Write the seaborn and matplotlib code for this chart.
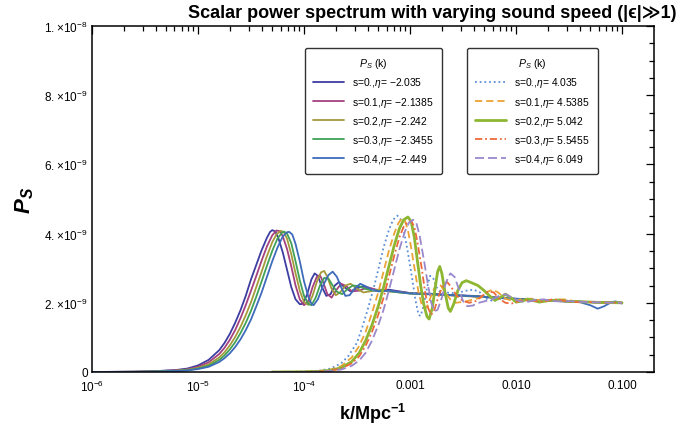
import numpy as np
import pandas as pd
import matplotlib
matplotlib.use("Agg")
import matplotlib.pyplot as plt
import seaborn as sns
from matplotlib.ticker import FixedLocator, NullFormatter

# ---------------- data (log10 k, P_S in units of 1e-9) ----------------
# group 1 (eta < 0), solid lines
logk_a0 = [-6.0, -5.6, -5.4, -5.2, -5.1, -5.0, -4.9, -4.8, -4.75, -4.7, -4.65, -4.6, -4.55, -4.5, -4.45, -4.4, -4.35, -4.32, -4.30, -4.27, -4.24, -4.20, -4.16, -4.12, -4.08, -4.04, -4.01, -3.97, -3.93, -3.90, -3.87, -3.83, -3.79, -3.75, -3.71, -3.67, -3.62, -3.56, -3.50, -3.44, -3.38, -3.3, -3.2, -3.1, -3.0, -2.8, -2.6, -2.4, -2.2, -2.0, -1.8, -1.6, -1.4, -1.2, -1.0]
ps_a0 = [0.0, 0.01, 0.025, 0.06, 0.1, 0.19, 0.35, 0.63, 0.84, 1.1, 1.42, 1.78, 2.2, 2.68, 3.1, 3.52, 3.88, 4.05, 4.10, 4.06, 3.85, 3.45, 2.95, 2.45, 2.1, 1.96, 1.97, 2.25, 2.68, 2.85, 2.78, 2.45, 2.2, 2.25, 2.5, 2.6, 2.45, 2.33, 2.42, 2.48, 2.40, 2.36, 2.38, 2.33, 2.28, 2.26, 2.22, 2.2, 2.15, 2.12, 2.08, 2.05, 2.03, 2.01, 2.0]

logk_a1 = [-6.0, -5.6, -5.4, -5.2, -5.1, -5.0, -4.9, -4.8, -4.75, -4.7, -4.65, -4.6, -4.55, -4.5, -4.45, -4.4, -4.35, -4.3, -4.26, -4.23, -4.2, -4.16, -4.12, -4.08, -4.04, -4.0, -3.96, -3.92, -3.88, -3.85, -3.82, -3.78, -3.74, -3.70, -3.65, -3.60, -3.55, -3.48, -3.40, -3.32, -3.2, -3.1, -3.0, -2.8, -2.6, -2.4, -2.2, -2.0, -1.8, -1.6, -1.4, -1.2, -1.0]
ps_a1 = [0.0, 0.008, 0.02, 0.05, 0.08, 0.15, 0.28, 0.52, 0.7, 0.93, 1.21, 1.55, 1.93, 2.35, 2.78, 3.22, 3.63, 3.95, 4.09, 4.07, 3.92, 3.55, 3.05, 2.5, 2.1, 1.93, 2.05, 2.45, 2.75, 2.8, 2.6, 2.25, 2.15, 2.35, 2.55, 2.48, 2.33, 2.35, 2.45, 2.38, 2.34, 2.32, 2.28, 2.25, 2.22, 2.19, 2.15, 2.11, 2.08, 2.05, 2.03, 2.01, 2.0]

logk_a2 = [-6.0, -5.6, -5.4, -5.2, -5.1, -5.0, -4.9, -4.8, -4.75, -4.7, -4.65, -4.6, -4.55, -4.5, -4.45, -4.4, -4.35, -4.3, -4.26, -4.22, -4.19, -4.16, -4.12, -4.08, -4.04, -4.0, -3.96, -3.92, -3.88, -3.84, -3.81, -3.78, -3.74, -3.70, -3.66, -3.61, -3.56, -3.5, -3.44, -3.36, -3.28, -3.2, -3.1, -3.0, -2.8, -2.6, -2.4, -2.2, -2.0, -1.8, -1.6, -1.4, -1.2, -1.0]
ps_a2 = [0.0, 0.006, 0.016, 0.04, 0.065, 0.12, 0.22, 0.42, 0.57, 0.77, 1.01, 1.3, 1.64, 2.02, 2.46, 2.9, 3.35, 3.75, 3.98, 4.08, 4.04, 3.85, 3.4, 2.85, 2.35, 2.02, 1.94, 2.2, 2.6, 2.88, 2.92, 2.75, 2.4, 2.22, 2.3, 2.5, 2.55, 2.4, 2.3, 2.34, 2.38, 2.33, 2.3, 2.27, 2.24, 2.21, 2.18, 2.15, 2.11, 2.08, 2.05, 2.03, 2.01, 2.0]

logk_a3 = [-6.0, -5.6, -5.4, -5.2, -5.1, -5.0, -4.9, -4.8, -4.75, -4.7, -4.65, -4.6, -4.55, -4.5, -4.45, -4.4, -4.35, -4.3, -4.25, -4.21, -4.19, -4.16, -4.12, -4.08, -4.04, -4.0, -3.96, -3.93, -3.89, -3.85, -3.81, -3.77, -3.73, -3.69, -3.64, -3.59, -3.54, -3.48, -3.42, -3.34, -3.26, -3.18, -3.1, -3.0, -2.8, -2.6, -2.4, -2.2, -2.0, -1.8, -1.6, -1.4, -1.2, -1.0]
ps_a3 = [0.0, 0.005, 0.013, 0.033, 0.055, 0.1, 0.18, 0.35, 0.48, 0.65, 0.86, 1.12, 1.42, 1.77, 2.18, 2.62, 3.07, 3.5, 3.86, 4.02, 4.06, 4.0, 3.72, 3.2, 2.65, 2.2, 1.97, 1.93, 2.15, 2.5, 2.72, 2.7, 2.5, 2.32, 2.25, 2.4, 2.5, 2.48, 2.4, 2.35, 2.36, 2.33, 2.3, 2.27, 2.25, 2.22, 2.19, 2.15, 2.11, 2.08, 2.05, 2.03, 2.01, 2.0]

logk_a4 = [-6.0, -5.6, -5.4, -5.2, -5.1, -5.0, -4.9, -4.8, -4.75, -4.7, -4.65, -4.6, -4.55, -4.5, -4.45, -4.4, -4.35, -4.3, -4.25, -4.2, -4.16, -4.14, -4.11, -4.08, -4.04, -4.0, -3.96, -3.93, -3.91, -3.87, -3.82, -3.77, -3.73, -3.69, -3.65, -3.61, -3.57, -3.52, -3.47, -3.42, -3.36, -3.3, -3.2, -3.1, -3.0, -2.8, -2.6, -2.4, -2.2, -2.0, -1.8, -1.6, -1.5, -1.4, -1.3, -1.23, -1.17, -1.1, -1.06, -1.03, -1.0]
ps_a4 = [0.0, 0.004, 0.011, 0.028, 0.045, 0.085, 0.15, 0.29, 0.4, 0.54, 0.72, 0.94, 1.21, 1.52, 1.9, 2.3, 2.75, 3.2, 3.6, 3.92, 4.04, 4.05, 3.97, 3.7, 3.2, 2.62, 2.18, 1.97, 1.93, 2.1, 2.5, 2.8, 2.9, 2.75, 2.45, 2.2, 2.22, 2.42, 2.55, 2.48, 2.38, 2.33, 2.35, 2.31, 2.27, 2.25, 2.22, 2.19, 2.15, 2.11, 2.08, 2.05, 2.04, 2.02, 1.93, 1.83, 1.9, 2.02, 2.04, 2.0, 1.98]

# group 2 (eta > 0), dashed/dotted lines
logk_b0 = [-4.3, -4.0, -3.85, -3.75, -3.65, -3.58, -3.5, -3.45, -3.4, -3.35, -3.3, -3.25, -3.2, -3.16, -3.12, -3.09, -3.06, -3.02, -2.98, -2.95, -2.92, -2.90, -2.87, -2.84, -2.81, -2.78, -2.75, -2.71, -2.66, -2.6, -2.54, -2.47, -2.4, -2.34, -2.28, -2.22, -2.16, -2.1, -2.02, -1.94, -1.85, -1.75, -1.65, -1.55, -1.45, -1.35, -1.25, -1.15, -1.0]
ps_b0 = [0.0, 0.01, 0.04, 0.1, 0.25, 0.47, 0.85, 1.3, 1.8, 2.35, 2.95, 3.6, 4.1, 4.4, 4.52, 4.42, 4.1, 3.45, 2.7, 2.1, 1.65, 1.62, 1.95, 2.45, 2.78, 2.7, 2.45, 2.28, 2.3, 2.28, 2.3, 2.35, 2.38, 2.3, 2.12, 2.05, 2.1, 2.15, 2.12, 2.08, 2.1, 2.06, 2.08, 2.04, 2.05, 2.02, 2.03, 2.0, 2.0]

logk_b1 = [-4.3, -4.0, -3.85, -3.75, -3.65, -3.55, -3.48, -3.42, -3.36, -3.3, -3.25, -3.2, -3.15, -3.11, -3.08, -3.05, -3.02, -2.99, -2.95, -2.92, -2.89, -2.86, -2.83, -2.79, -2.75, -2.71, -2.67, -2.62, -2.57, -2.52, -2.46, -2.4, -2.33, -2.27, -2.22, -2.17, -2.1, -2.03, -1.95, -1.85, -1.75, -1.65, -1.55, -1.45, -1.35, -1.25, -1.15, -1.0]
ps_b1 = [0.0, 0.008, 0.03, 0.07, 0.17, 0.42, 0.75, 1.15, 1.7, 2.3, 2.9, 3.5, 4.0, 4.3, 4.43, 4.38, 4.1, 3.6, 2.85, 2.3, 1.95, 1.82, 1.95, 2.3, 2.55, 2.5, 2.3, 2.1, 2.0, 2.02, 2.05, 2.1, 2.15, 2.32, 2.38, 2.3, 2.12, 2.05, 2.1, 2.12, 2.06, 2.08, 2.1, 2.05, 2.03, 2.02, 2.01, 2.0]

logk_b2 = [-4.3, -4.0, -3.85, -3.75, -3.65, -3.55, -3.48, -3.42, -3.36, -3.3, -3.25, -3.2, -3.15, -3.1, -3.06, -3.02, -2.99, -2.96, -2.93, -2.90, -2.87, -2.84, -2.82, -2.79, -2.76, -2.74, -2.72, -2.70, -2.67, -2.64, -2.62, -2.59, -2.55, -2.51, -2.47, -2.42, -2.36, -2.3, -2.25, -2.2, -2.15, -2.1, -2.05, -2.0, -1.94, -1.89, -1.83, -1.78, -1.7, -1.6, -1.5, -1.4, -1.3, -1.2, -1.0]
ps_b2 = [0.0, 0.005, 0.02, 0.05, 0.12, 0.3, 0.55, 0.9, 1.35, 1.9, 2.45, 3.05, 3.65, 4.15, 4.4, 4.48, 4.35, 3.9, 3.2, 2.5, 1.95, 1.6, 1.53, 1.85, 2.5, 2.9, 3.05, 2.85, 2.3, 1.85, 1.75, 1.95, 2.35, 2.58, 2.64, 2.58, 2.5, 2.35, 2.2, 2.07, 2.15, 2.25, 2.15, 2.02, 2.05, 2.11, 2.06, 2.02, 2.06, 2.08, 2.04, 2.03, 2.02, 2.01, 2.0]

logk_b3 = [-4.3, -4.0, -3.85, -3.75, -3.65, -3.55, -3.48, -3.42, -3.36, -3.3, -3.25, -3.2, -3.15, -3.1, -3.06, -3.02, -2.99, -2.96, -2.93, -2.89, -2.86, -2.83, -2.80, -2.77, -2.73, -2.69, -2.65, -2.61, -2.56, -2.5, -2.44, -2.38, -2.32, -2.26, -2.21, -2.16, -2.1, -2.04, -1.97, -1.9, -1.82, -1.74, -1.66, -1.58, -1.5, -1.4, -1.3, -1.2, -1.0]
ps_b3 = [0.0, 0.004, 0.015, 0.04, 0.1, 0.25, 0.45, 0.75, 1.15, 1.65, 2.15, 2.75, 3.35, 3.9, 4.2, 4.35, 4.37, 4.2, 3.75, 3.0, 2.35, 1.85, 1.65, 1.8, 2.2, 2.5, 2.6, 2.45, 2.2, 2.05, 2.0, 2.05, 2.2, 2.33, 2.3, 2.12, 2.0, 1.98, 2.05, 2.07, 2.05, 2.03, 2.1, 2.08, 2.03, 2.02, 2.02, 2.01, 2.0]

logk_b4 = [-4.3, -4.0, -3.85, -3.75, -3.65, -3.55, -3.48, -3.42, -3.36, -3.3, -3.25, -3.2, -3.15, -3.1, -3.05, -3.01, -2.97, -2.94, -2.91, -2.87, -2.83, -2.80, -2.77, -2.74, -2.70, -2.66, -2.62, -2.58, -2.54, -2.5, -2.46, -2.41, -2.35, -2.29, -2.22, -2.16, -2.1, -2.04, -1.97, -1.9, -1.82, -1.74, -1.66, -1.58, -1.5, -1.4, -1.3, -1.2, -1.0]
ps_b4 = [0.0, 0.003, 0.01, 0.03, 0.07, 0.18, 0.33, 0.55, 0.9, 1.35, 1.8, 2.35, 2.95, 3.55, 4.05, 4.32, 4.4, 4.3, 3.95, 3.25, 2.5, 2.0, 1.75, 1.8, 2.15, 2.6, 2.85, 2.75, 2.4, 2.05, 1.9, 1.92, 2.0, 2.05, 2.1, 2.2, 2.25, 2.15, 2.05, 2.02, 2.08, 2.1, 2.05, 2.04, 2.05, 2.03, 2.02, 2.01, 2.0]

labels_a = ["s=0.,$\\eta$= \u22122.035", "s=0.1,$\\eta$= \u22122.1385", "s=0.2,$\\eta$= \u22122.242",
            "s=0.3,$\\eta$= \u22122.3455", "s=0.4,$\\eta$= \u22122.449"]
labels_b = ["s=0.,$\\eta$= 4.035", "s=0.1,$\\eta$= 4.5385", "s=0.2,$\\eta$= 5.042",
            "s=0.3,$\\eta$= 5.5455", "s=0.4,$\\eta$= 6.049"]

x_tick_vals = [1e-6, 1e-5, 1e-4, 1e-3, 1e-2, 1e-1]
x_tick_labels = ["$10^{-6}$", "$10^{-5}$", "$10^{-4}$", "0.001", "0.010", "0.100"]
y_tick_vals = [0, 2e-9, 4e-9, 6e-9, 8e-9, 1e-8]
y_tick_labels = ["0", "$2.\\!\\times\\!10^{-9}$", "$4.\\!\\times\\!10^{-9}$", "$6.\\!\\times\\!10^{-9}$",
                 "$8.\\!\\times\\!10^{-9}$", "$1.\\!\\times\\!10^{-8}$"]

# ---------------- styling ----------------
sns.set_style("white")
plt.rcParams["font.family"] = ["Liberation Sans", "DejaVu Sans"]
plt.rcParams["mathtext.fontset"] = "custom"
plt.rcParams["mathtext.rm"] = "Liberation Sans"
plt.rcParams["mathtext.it"] = "Liberation Sans:italic"
plt.rcParams["mathtext.bf"] = "Liberation Sans:bold:italic"
plt.rcParams["mathtext.sf"] = "Liberation Sans:bold"
for key in ["text.color", "axes.labelcolor", "xtick.color", "ytick.color"]:
    plt.rcParams[key] = "black"

colors_a = ["#3d3da2", "#a5417f", "#a59a3a", "#40a157", "#3f6bbb"]
colors_b = ["#5b8fd6", "#eaa334", "#8db631", "#ec6a3c", "#9a88cc"]
styles_b = [(0, (1, 1.6)), (0, (4, 2.2)), "-", (0, (4, 1.6, 1, 1.6)), (0, (5, 2.2))]
widths_b = [1.3, 1.3, 2.0, 1.3, 1.3]

fig = plt.figure(figsize=(6.88, 4.27), dpi=100)
ax = fig.add_axes([92 / 688, 1 - 373 / 427, (654 - 92) / 688, (373 - 27) / 427])

group_a = [(logk_a0, ps_a0), (logk_a1, ps_a1), (logk_a2, ps_a2), (logk_a3, ps_a3), (logk_a4, ps_a4)]
group_b = [(logk_b0, ps_b0), (logk_b1, ps_b1), (logk_b2, ps_b2), (logk_b3, ps_b3), (logk_b4, ps_b4)]

handles_a, handles_b = [], []
for i, (lk, ps) in enumerate(group_a):
    df = pd.DataFrame({"k": 10 ** np.array(lk), "P": np.array(ps) * 1e-9})
    sns.lineplot(data=df, x="k", y="P", ax=ax, sort=False, estimator=None,
                 color=colors_a[i], lw=1.3, legend=False)
    handles_a.append(ax.get_lines()[-1])
for i, (lk, ps) in enumerate(group_b):
    df = pd.DataFrame({"k": 10 ** np.array(lk), "P": np.array(ps) * 1e-9})
    sns.lineplot(data=df, x="k", y="P", ax=ax, sort=False, estimator=None,
                 color=colors_b[i], lw=widths_b[i], linestyle=styles_b[i], legend=False)
    handles_b.append(ax.get_lines()[-1])

ax.set_xscale("log")
ax.set_xlim(1e-6, 0.2)
ax.set_ylim(0, 1e-8)

ax.xaxis.set_major_locator(FixedLocator(x_tick_vals))
ax.set_xticklabels(x_tick_labels)
minor_x = [m * 10.0 ** e for e in range(-6, 0) for m in range(2, 10) if m * 10.0 ** e < 0.2]
ax.xaxis.set_minor_locator(FixedLocator(minor_x))
ax.xaxis.set_minor_formatter(NullFormatter())
ax.yaxis.set_major_locator(FixedLocator(y_tick_vals))
ax.set_yticklabels(y_tick_labels)
ax.yaxis.set_minor_locator(FixedLocator([v * 0.5e-9 for v in range(1, 20, 1) if v % 4 != 0]))

ax.tick_params(which="both", direction="in", top=True, right=True, colors="black",
               labelsize=8.5, width=0.9)
ax.tick_params(which="major", length=6)
ax.tick_params(which="minor", length=3.5)
ax.tick_params(axis="x", pad=5)
ax.tick_params(axis="y", pad=3)
for sp in ax.spines.values():
    sp.set_color("black")
    sp.set_linewidth(1.1)

ax.set_xlabel("$\\mathsf{k/Mpc^{-1}}$", fontsize=13, labelpad=5)
ax.set_ylabel("$\\mathbf{P_S}$", fontsize=16, labelpad=6)
fig.text(432 / 688, 1 - 14 / 427, "Scalar power spectrum with varying sound speed (|\u03f5|\u226b1)",
         ha="center", va="center", fontsize=13, fontweight="bold")

leg_kw = dict(fontsize=7.4, title_fontsize=7.6, frameon=True, fancybox=True, handlelength=3.0,
              handletextpad=0.8, labelspacing=0.5, borderpad=0.8, loc="upper left",
              borderaxespad=0)
leg1 = ax.legend(handles_a, labels_a, title="$P_S$ (k)",
                 bbox_to_anchor=((305 - 92) / 562, (373 - 49) / 346), **leg_kw)
leg1.get_frame().set_edgecolor("black")
leg1.get_frame().set_linewidth(1.0)
ax.add_artist(leg1)
leg2 = ax.legend(handles_b, labels_b, title="$P_S$ (k)",
                 bbox_to_anchor=((467 - 92) / 562, (373 - 49) / 346), **leg_kw)
leg2.get_frame().set_edgecolor("black")
leg2.get_frame().set_linewidth(1.0)

fig.savefig("out.png", dpi=100)
